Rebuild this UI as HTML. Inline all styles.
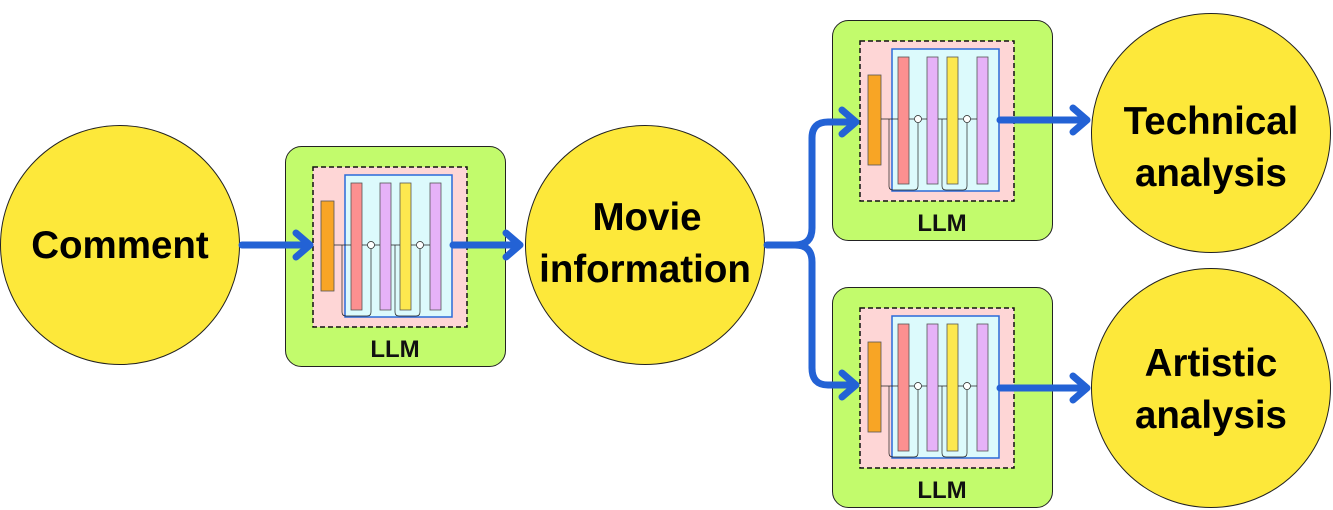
<!DOCTYPE html>
<html><head><style>body{margin:0;background:#fff}svg{display:block}</style></head><body>
<svg width="1333" height="510" viewBox="0 0 1333 510" xmlns="http://www.w3.org/2000/svg" font-family="Liberation Sans, sans-serif">
<defs>
<g id="llm">
<rect x="0.5" y="0.5" width="220" height="220" rx="16" fill="#c2fb6c" stroke="#222" stroke-width="1"/>
<rect x="28" y="21" width="154" height="160" fill="#fed6d6" stroke="#111" stroke-width="1.5" stroke-dasharray="5,3"/>
<rect x="60" y="29" width="107" height="142" fill="#dcfafc" stroke="#2a6ad8" stroke-width="1.5"/>
<rect x="36" y="55" width="13" height="90" fill="#f8a525" stroke="#555" stroke-width="0.8"/>
<rect x="66" y="37" width="11" height="127" fill="#fc9090" stroke="#555" stroke-width="0.8"/>
<rect x="95" y="37" width="11" height="127" fill="#e6b2f8" stroke="#555" stroke-width="0.8"/>
<rect x="115" y="37" width="11" height="127" fill="#fde84f" stroke="#555" stroke-width="0.8"/>
<rect x="145" y="37" width="11" height="127" fill="#e6b2f8" stroke="#555" stroke-width="0.8"/>
<g stroke="#222" stroke-width="0.7" fill="none">
<path d="M49 99H66M77 99H95M106 99H115M126 99H145"/>
<path d="M57 99V166Q57 170 61 170H82Q86 170 86 166V103"/>
<path d="M110 99V166Q110 170 114 170H131Q135 170 135 166V103"/>
<circle cx="86" cy="99" r="3.5" fill="#fff"/><circle cx="135" cy="99" r="3.5" fill="#fff"/>
</g>
<text x="110" y="211" text-anchor="middle" font-weight="bold" font-size="24" fill="#111">LLM</text>
</g>
</defs>
<g fill="#fde83a" stroke="#222" stroke-width="1">
<circle cx="120" cy="245" r="119.5"/>
<circle cx="645" cy="245" r="119.5"/>
<circle cx="1211" cy="133" r="119.5"/>
<circle cx="1211" cy="388" r="119.5"/>
</g>
<g font-weight="bold" font-size="38.5" text-anchor="middle" fill="#000">
<text x="120" y="258">Comment</text>
<text x="647" y="230">Movie</text>
<text x="645" y="282">information</text>
<text x="1211" y="134">Technical</text>
<text x="1211" y="186">analysis</text>
<text x="1211" y="376">Artistic</text>
<text x="1211" y="428">analysis</text>
</g>
<use href="#llm" x="285" y="146"/>
<use href="#llm" x="832" y="20"/>
<use href="#llm" x="832" y="287"/>
<g stroke="#2362d5" stroke-width="7" fill="none" stroke-linecap="round" stroke-linejoin="round">
<path d="M242 245H310M296 233L310 245L296 257"/>
<path d="M453 245H520M506 233L520 245L506 257"/>
<path d="M767 245H795Q812 245 812 228V138Q812 122 828 122H856M842 110L856 122L842 134"/>
<path d="M795 245Q812 245 812 262V368Q812 385 828 385H856M842 373L856 385L842 397"/>
<path d="M1000 120H1087M1073 108L1087 120L1073 132"/>
<path d="M1000 388H1087M1073 376L1087 388L1073 400"/>
</g>
</svg>
</body></html>
